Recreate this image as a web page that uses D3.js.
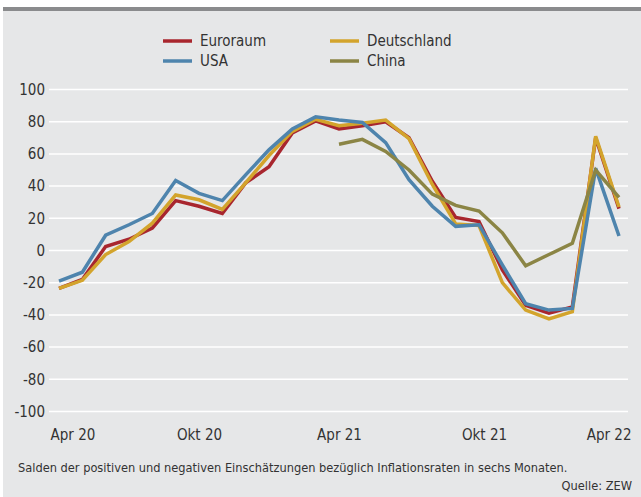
<!DOCTYPE html>
<html>
<head>
<meta charset="utf-8">
<script src="https://cdn.jsdelivr.net/npm/d3@7"></script>
<style>
  body { margin: 0; background: #fff; }
  svg text { font-family: "DejaVu Sans Condensed", "Liberation Sans Narrow", sans-serif; fill: #333; }
</style>
</head>
<body>
<svg id="chart" width="641" height="497"></svg>
<script>
// Data
const months = ["Apr 20","Mai 20","Jun 20","Jul 20","Aug 20","Sep 20","Okt 20","Nov 20","Dez 20",
  "Jan 21","Feb 21","Mär 21","Apr 21","Mai 21","Jun 21","Jul 21","Aug 21","Sep 21","Okt 21",
  "Nov 21","Dez 21","Jan 22","Feb 22","Mär 22","Apr 22"];
const euroraum = [-23.5,-18,2.5,7,14,31,27.5,23,42,52,73,80.5,75.5,77.5,80,70,43,20.5,18,-12,-34,-39,-35,70,26];
const deutschland = [-23.5,-18.5,-2.5,5.5,17,34.5,31.5,25.5,42,59,74,81.5,77.5,79,81,69.5,41,16.5,15.5,-20,-37,-42.5,-38,71,27];
const usa = [-19,-13.5,9.5,16,23,43.5,35.5,31,47,62.5,75.5,83,81,79.5,67,44,27.5,15,16,-9,-33,-37,-36,51,9];
const china = [null,null,null,null,null,null,null,null,null,null,null,null,66,69,61.5,50,35,28,24.5,11,-9.5,-2.5,4.5,50,33];
const seriesNames = ["Euroraum","Deutschland","USA","China"];
const seriesColors = ["#a8262e","#d3a42c","#4e84ad","#8b8545"];
const yTicks = [100,80,60,40,20,0,-20,-40,-60,-80,-100];
const xTicks = ["Apr 20","Okt 20","Apr 21","Okt 21","Apr 22"];

const svg = d3.select("#chart");

// panel and top rule
svg.append("rect").attr("x", 3).attr("y", 7).attr("width", 638).attr("height", 490).attr("fill", "#e6e7e8");
svg.append("rect").attr("x", 3).attr("y", 7).attr("width", 638).attr("height", 4).attr("fill", "#8a8b8d");

const x = d3.scalePoint().domain(months).range([59, 619]);
const y = d3.scaleLinear().domain([-100, 100]).range([411.5, 89.5]);

// grid
svg.append("g").selectAll("line").data(yTicks).join("line")
  .attr("x1", 49).attr("x2", 628)
  .attr("y1", d => y(d)).attr("y2", d => y(d))
  .attr("stroke", "#fff").attr("stroke-width", 1.5);

// y axis labels (plain hyphen like the original)
const yAxis = svg.append("g").attr("transform", "translate(45,0)")
  .call(d3.axisLeft(y).tickValues(yTicks).tickSize(0).tickPadding(0).tickFormat(d => String(d)));
yAxis.select(".domain").remove();
yAxis.selectAll("text").style("font-size", "15px").attr("fill", "#333");

// x axis labels
const xAxis = svg.append("g").attr("transform", "translate(0,429)")
  .call(d3.axisBottom(x).tickValues(xTicks).tickSize(0).tickPadding(0));
xAxis.select(".domain").remove();
xAxis.selectAll("text").style("font-size", "15px").attr("fill", "#333");
xAxis.selectAll(".tick").filter(d => d === "Apr 20").select("text").attr("text-anchor", "start").attr("dx", -9);
xAxis.selectAll(".tick").filter(d => d === "Apr 22").select("text").attr("text-anchor", "end").attr("dx", 12);
xAxis.selectAll(".tick").filter(d => d === "Okt 21").select("text").attr("dx", 5);

// lines
const allSeries = [euroraum, deutschland, usa, china];
const line = d3.line()
  .defined(d => d != null)
  .x((d, i) => x(months[i]))
  .y(d => y(d));
allSeries.forEach((s, k) => {
  svg.append("path")
    .datum(s)
    .attr("d", line)
    .attr("fill", "none")
    .attr("stroke", seriesColors[k])
    .attr("stroke-width", 3.5)
    .attr("stroke-linejoin", "miter");
});

// legend
const legendPos = [[163, 41], [330, 41], [163, 61], [330, 61]];
seriesNames.forEach((name, k) => {
  const g = svg.append("g").attr("transform", `translate(${legendPos[k][0]},${legendPos[k][1]})`);
  g.append("line").attr("x1", 0).attr("x2", 29).attr("y1", 0).attr("y2", 0)
    .attr("stroke", seriesColors[k]).attr("stroke-width", 3.5);
  g.append("text").attr("x", 37).attr("y", 0).attr("dy", "0.35em")
    .style("font-size", "15px").text(name);
});

// footer
svg.append("text").attr("x", 18).attr("y", 472).style("font-size", "12.7px")
  .text("Salden der positiven und negativen Einschätzungen bezüglich Inflationsraten in sechs Monaten.");
svg.append("text").attr("x", 632).attr("y", 490).attr("text-anchor", "end").style("font-size", "12.7px")
  .text("Quelle: ZEW");
</script>
</body>
</html>
